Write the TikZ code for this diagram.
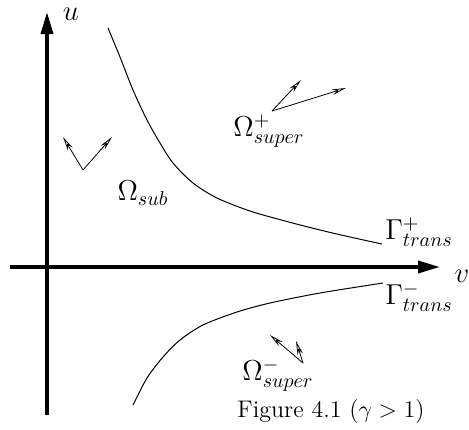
\documentclass[tikz,border=0pt]{standalone}
\usetikzlibrary{arrows.meta}
\begin{document}
\begin{tikzpicture}[
    x=0.5pt, y=-0.5pt,
    every node/.style={font=\Large, inner sep=1pt},
    axis/.style={line width=1.8pt, -{Triangle[length=11pt,width=6pt]}},
    branch/.style={line width=0.5pt},
    flow/.style={line width=0.4pt, -{Stealth[open,length=7pt,width=2.8pt]}},
  ]
\useasboundingbox (0,0) rectangle (469,429);
% --- axes
\coordinate (v0) at (10,267);
\coordinate (v1) at (440,267);
\coordinate (u0) at (47,415);
\coordinate (u1) at (47,12);
\draw[axis] (v0) -- (v1);
\draw[axis] (u0) -- (u1);
\node (ulab) at (71,14) {$u$};
\node (vlab) at (462,276) {$v$};

% --- transition curves
\draw[branch] plot[smooth] coordinates {
  (108,28) (120,57) (133,90) (147,120) (160,143) (173,163) (193,183)
  (217,198) (250,211) (285,221) (320,230) (350,237) (382,244)};
\draw[branch] plot[smooth] coordinates {
  (133,405) (147,378) (163,357) (180,340) (203,325) (237,312) (270,303)
  (320,293) (383,283)};

% --- region labels
\node (sub)    at (143,193) {$\Omega_{sub}$};
\node (supp)   at (269,131) {$\Omega^+_{super}$};
\node (supm)   at (278,375) {$\Omega^-_{super}$};
\node (transp) at (419,232) {$\Gamma^+_{trans}$};
\node (transm) at (419,297) {$\Gamma^-_{trans}$};
\node[font=\large] (cap) at (331,411) {Figure 4.1 ($\gamma>1$)};

% --- characteristic directions
\coordinate (a0) at (83,170);
\coordinate (a1) at (63,137);
\coordinate (a2) at (112,137);
\draw[flow] (a0) -- (a1);
\draw[flow] (a0) -- (a2);

\coordinate (b0) at (272,111);
\coordinate (b1) at (301,80);
\coordinate (b2) at (346,88);
\draw[flow] (b0) -- (b1);
\draw[flow] (b0) -- (b2);

\coordinate (c0) at (303,363);
\coordinate (c1) at (270,335);
\coordinate (c2) at (296,341);
\draw[flow] (c0) -- (c1);
\draw[flow] (c0) -- (c2);
\end{tikzpicture}
\end{document}
